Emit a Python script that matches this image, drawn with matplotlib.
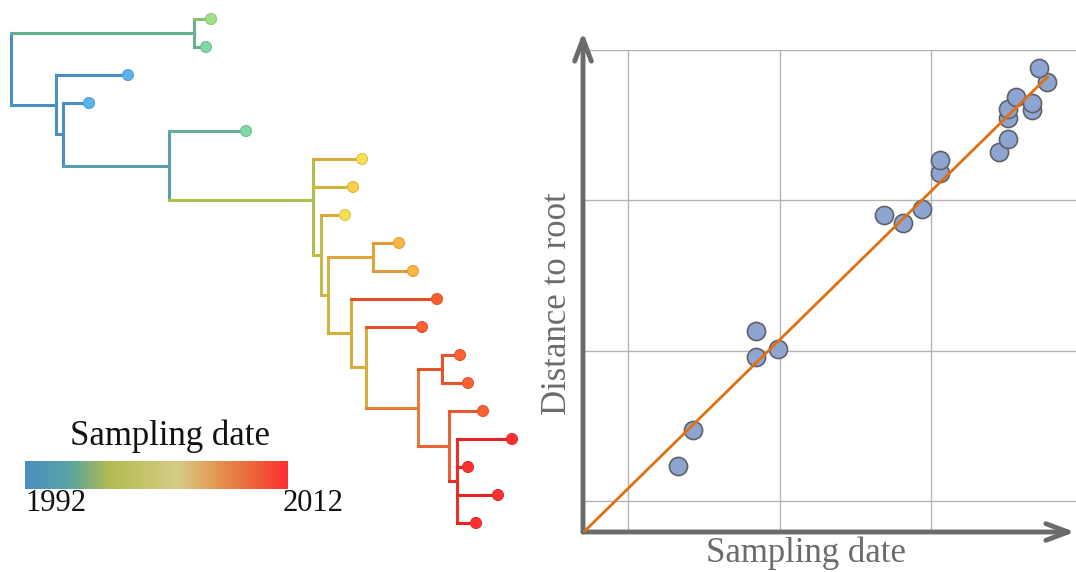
import numpy as np
import matplotlib
matplotlib.use('Agg')
import matplotlib.pyplot as plt
from matplotlib.collections import LineCollection
from matplotlib.colors import LinearSegmentedColormap, Normalize

# tree nodes in depth-first order: parent index, divergence from root, date
node_parent = [-1, 0, 1, 1, 0, 4, 4, 6, 6, 8, 8, 10, 10, 10, 13, 13, 15, 16, 16,
               15, 19, 19, 21, 21, 23, 24, 24, 23, 27, 27, 29, 29, 29, 29]
node_div = [0.0, 18.3, 20.0, 19.5, 4.5, 11.7, 5.2, 7.8, 15.8, 23.5, 30.2, 35.1,
            34.2, 31.0, 33.4, 31.7, 36.2, 38.8, 40.2, 34.0, 42.6, 35.5, 41.1,
            40.7, 43.1, 44.9, 45.7, 43.8, 47.2, 44.6, 50.1, 45.7, 48.7, 46.5]
node_date = [1992.0, 1996.4, 1998.0, 1996.0, 1992.0, 1992.0, 1992.0, 1992.0,
             1994.4, 1996.0, 1998.8, 2003.6, 2002.0, 2000.4, 2003.6, 2002.0,
             2004.0, 2005.2, 2005.2, 2003.2, 2009.6, 2003.2, 2009.6, 2006.8,
             2009.2, 2009.2, 2009.2, 2008.4, 2009.0, 2011.0, 2012.0, 2012.0,
             2012.0, 2012.0]
date_range = [1992, 2012]

# root-to-tip regression
sample_date = [1996.66, 1997.16, 1999.21, 1999.21, 1999.94, 2003.46, 2004.07,
               2004.71, 2005.29, 2005.31, 2007.25, 2007.55, 2007.53, 2007.55,
               2007.81, 2008.33, 2008.33, 2008.84, 2008.57]
root_dist = [0.0123, 0.0147, 0.0196, 0.0213, 0.0201, 0.0290, 0.0285, 0.0294,
             0.0318, 0.0327, 0.0332, 0.0341, 0.0355, 0.0361, 0.0369, 0.0360,
             0.0365, 0.0379, 0.0388]
fit_date = [1993.52, 2008.84]
fit_dist = [0.0079, 0.0382]

bar_cmap = LinearSegmentedColormap.from_list('bar', [
    (0, '#4b8fc2'), (0.17, '#5aa3a3'), (0.32, '#b1bd4f'), (0.58, '#d6cc85'),
    (0.72, '#e39a55'), (0.85, '#ea6c3a'), (1, '#fe3030')])
branch_cmap = LinearSegmentedColormap.from_list('branch', [
    (0, '#4a8fc2'), (0.05, '#4a8fc2'), (0.12, '#58a0a8'), (0.22, '#68b090'),
    (0.3, '#8cc070'), (0.34, '#b0bc50'), (0.45, '#c8bc48'), (0.58, '#d9ab3c'),
    (0.66, '#e0983a'), (0.8, '#e86a38'), (0.88, '#e2502a'), (1, '#e42424')])
tip_cmap = LinearSegmentedColormap.from_list('tip', [
    (0, '#5ab4ee'), (0.08, '#5ab4ee'), (0.2, '#80d8a4'), (0.3, '#a2e184'),
    (0.5, '#f9d048'), (0.58, '#f9e052'), (0.66, '#fbb443'), (0.8, '#fe6535'),
    (0.88, '#fe6032'), (1, '#fe3030')])
norm = Normalize(*date_range)

plt.rcParams['font.family'] = ['Liberation Serif', 'DejaVu Serif']

W, H = 1076, 572
fig = plt.figure(figsize=(W / 100, H / 100), dpi=100)

# ---- tree ----
n = len(node_parent)
children = [[] for _ in range(n)]
for i, p in enumerate(node_parent):
    if p >= 0:
        children[p].append(i)
tips = [i for i in range(n) if not children[i]]
node_y = np.zeros(n)
node_y[tips] = np.arange(len(tips))
for i in reversed(range(n)):
    if children[i]:
        node_y[i] = node_y[children[i]].mean()

vsegs, vcols, hsegs, hcols = [], [], [], []
for i, p in enumerate(node_parent):
    if p < 0:
        continue
    vsegs.append([(node_div[p], node_y[p]), (node_div[p], node_y[i])])
    vcols.append(branch_cmap(norm(node_date[p])))
    hsegs.append([(node_div[p], node_y[i]), (node_div[i], node_y[i])])
    hcols.append(branch_cmap(norm(node_date[i])))

tax = fig.add_axes([0, 0, 540 / W, 1])
tax.add_collection(LineCollection(vsegs, colors=vcols, linewidths=2.2,
                                  capstyle='projecting'))
tax.add_collection(LineCollection(hsegs, colors=hcols, linewidths=2.2,
                                  capstyle='projecting'))
tip_col = tip_cmap(norm(np.array(node_date)[tips]))
edge_col = tip_col.copy()
edge_col[:, :3] *= 0.88
tax.scatter(np.array(node_div)[tips], node_y[tips], s=62, c=tip_col,
            edgecolors=edge_col, linewidths=0.8, zorder=3)
tax.set_xlim(-1.1, 52.9)
tax.set_ylim(19.75, -0.679)
tax.axis('off')

# colour key
cax = fig.add_axes([25 / W, (H - 489) / H, 263 / W, 28 / H])
cax.imshow(np.linspace(0, 1, 256)[None, :], extent=[*date_range, 0, 1],
           aspect='auto', cmap=bar_cmap)
cax.axis('off')
fig.text(170 / W, (H - 445) / H, 'Sampling date', ha='center', va='baseline',
         fontsize=25, color='#111111')
fig.text(25 / W, (H - 511) / H, str(date_range[0]), ha='left', va='baseline',
         fontsize=22, color='#111111')
fig.text(283 / W, (H - 511) / H, str(date_range[1]), ha='left', va='baseline',
         fontsize=22, color='#111111')

# ---- regression ----
ax = fig.add_axes([583 / W, (H - 532) / H, (W - 583) / W, (532 - 50) / H])
ax.scatter(sample_date, root_dist, s=170, color='#8ea5d1', edgecolors='#5e6166',
           linewidths=1.2, zorder=3)
ax.plot(fit_date, fit_dist, color='#e07010', lw=2, zorder=4)
ax.set_xlim(1993.515, 2009.785)
ax.set_ylim(0.00794, 0.04)
ax.set_xticks([1995, 2000, 2005])
ax.set_yticks([0.01, 0.02, 0.03, 0.04])
ax.grid(True, color='#b4b4b4', lw=1)
ax.tick_params(length=0, labelbottom=False, labelleft=False)
for s in ax.spines.values():
    s.set_visible(False)

arrow = dict(arrowstyle='->,head_length=0.8,head_width=0.3', lw=3.5,
             color='#6b6b6b', shrinkA=0, shrinkB=0, mutation_scale=20)
ax.annotate('', xy=(0, 500 / 482), xytext=(0, 0), xycoords='axes fraction',
            arrowprops=arrow, annotation_clip=False)
ax.annotate('', xy=(492 / 493, 0), xytext=(0, 0), xycoords='axes fraction',
            arrowprops=arrow, annotation_clip=False)

fig.text(806 / W, (H - 553) / H, 'Sampling date', ha='center', va='center',
         fontsize=25, color='#6b6b6b')
fig.text(557 / W, (H - 304) / H, 'Distance to root', ha='center', va='center',
         rotation=90, fontsize=25, color='#6b6b6b')

fig.savefig('out.png', dpi=100)
